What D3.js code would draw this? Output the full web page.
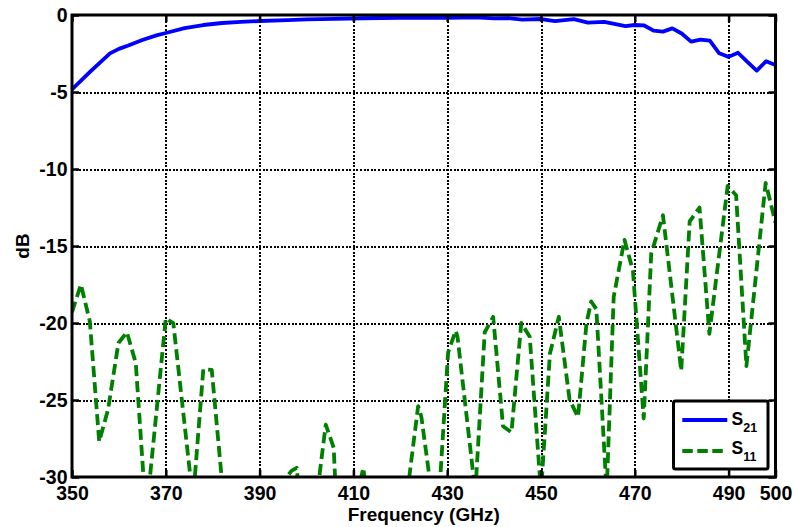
<!DOCTYPE html>
<html>
<head>
<meta charset="utf-8">
<script src="https://cdn.jsdelivr.net/npm/d3@7"></script>
<style>
  body { margin: 0; background: #fff; }
  text { font-family: "Liberation Sans", Arial, Helvetica, sans-serif; font-weight: bold; }
</style>
</head>
<body>
<svg id="chart" width="793" height="527"></svg>
<script>
// Transmission S21 (dB) versus frequency (GHz)
const s21Freq = [350, 354, 358.1, 360, 362, 365, 368, 370, 374, 378, 382, 386, 390, 396, 400, 406, 412, 420, 430, 436,
                 440, 443, 446, 450, 453, 457, 460, 463.5, 468, 470, 472, 474, 476, 478, 480, 482, 484, 486, 488, 490,
                 492, 494, 496, 498, 500];
const s21Db   = [-4.83, -3.65, -2.49, -2.2, -1.98, -1.62, -1.32, -1.17, -0.85, -0.65, -0.52, -0.45, -0.39, -0.33, -0.29, -0.25, -0.21, -0.18, -0.18, -0.15,
                 -0.22, -0.2, -0.3, -0.26, -0.4, -0.27, -0.5, -0.45, -0.72, -0.65, -0.68, -1.02, -1.08, -0.87, -1.2, -1.73, -1.6, -1.67, -2.49, -2.72,
                 -2.45, -3.05, -3.61, -3.0, -3.25];

// Reflection S11 (dB) versus frequency (GHz); values under -30 dB fall outside the axes
const s11Freq = [350, 351.9, 353.8, 355.8, 357.7, 359.9, 361.7, 363.6, 365.8, 370, 371.6, 375.8, 378, 379.8, 382.5, 386, 390,
                 395.3, 396.8, 397.9, 398.6, 400, 401.5, 404.1, 405.8, 407, 411, 412.1, 413, 418, 421.5, 423.8, 424.5, 426.3, 427.5,
                 430.2, 431.8, 432.2, 436, 438, 439.8, 441.9, 443.7, 445.5, 445.8, 447.6, 450, 451.9, 453.8, 456.1, 457.9,
                 459.7, 460.7, 461.8, 464, 465.5, 467.8, 469.6, 471.9, 473.5, 476, 479.9, 481.7, 483.8, 485.9, 489.8, 491.6,
                 493.8, 497.9, 500];
const s11Db   = [-19.3, -17.5, -19.9, -27.7, -25.6, -21.3, -20.6, -22.6, -32.5, -19.7, -20.0, -31.5, -23.0, -23.05, -32, -38, -40,
                 -30.2, -29.6, -29.4, -31.5, -36, -33, -26.6, -28.1, -36, -31, -29.4, -31.5, -38, -31, -25.4, -26.1, -30.2, -35,
                 -21.9, -20.5, -20.9, -31, -20.6, -19.6, -26.7, -27.1, -21.0, -20.0, -20.9, -31, -22.0, -19.6, -25.0, -26.1,
                 -20.0, -18.6, -19.1, -31, -18.3, -14.6, -16.6, -26.2, -15.5, -13.0, -23.1, -13.4, -12.5, -20.7, -11.1, -11.7,
                 -22.8, -10.9, -13.5];

const xTicks = [350, 370, 390, 410, 430, 450, 470, 490, 500];
const yTicks = [-30, -25, -20, -15, -10, -5, 0];
const legendNames = ["21", "11"];
const xTitle = "Frequency (GHz)";
const yTitle = "dB";

const plotLeft = 72, plotRight = 775.5, plotTop = 15, plotBottom = 477;
const svg = d3.select("#chart");

const x = d3.scaleLinear().domain([350, 500]).range([plotLeft, plotRight]);
const y = d3.scaleLinear().domain([-30, 0]).range([plotBottom, plotTop]);

// dotted grid
const gridStyle = g => {
  g.select(".domain").remove();
  g.selectAll("line").attr("stroke", "#000").attr("stroke-width", 2)
    .attr("stroke-dasharray", "2,1.6").attr("shape-rendering", "crispEdges");
};
svg.append("g")
  .attr("transform", `translate(0,${plotBottom})`)
  .call(d3.axisBottom(x).tickValues(xTicks.filter(v => v > 350 && v < 500)).tickSize(-(plotBottom - plotTop)).tickFormat(""))
  .call(gridStyle);
svg.append("g")
  .attr("transform", `translate(${plotLeft},0)`)
  .call(d3.axisLeft(y).tickValues(yTicks.filter(v => v > -30 && v < 0)).tickSize(-(plotRight - plotLeft)).tickFormat(""))
  .call(gridStyle);

// clip curves to the plot box
svg.append("defs").append("clipPath").attr("id", "plotClip")
  .append("rect").attr("x", plotLeft).attr("y", plotTop).attr("width", plotRight - plotLeft).attr("height", plotBottom - plotTop);

const line = d3.line().x(d => x(d[0])).y(d => y(d[1]));
const curves = svg.append("g").attr("clip-path", "url(#plotClip)");

curves.append("path")
  .datum(d3.zip(s11Freq, s11Db))
  .attr("d", line)
  .attr("fill", "none")
  .attr("stroke", "#008000")
  .attr("stroke-width", 3.8)
  .attr("stroke-dasharray", "11,5")
  .attr("stroke-linejoin", "round");

curves.append("path")
  .datum(d3.zip(s21Freq, s21Db))
  .attr("d", line)
  .attr("fill", "none")
  .attr("stroke", "#0000ff")
  .attr("stroke-width", 3.8)
  .attr("stroke-linejoin", "round");

// axes with inward ticks on all four sides
const fmt = d => String(d);
const axisStyle = g => {
  g.select(".domain").remove();
  g.selectAll(".tick line").attr("stroke", "#000").attr("stroke-width", 2.5);
  g.selectAll("text").attr("fill", "#000").style("font-size", "19.5px");
};
svg.append("g")
  .attr("transform", `translate(0,${plotBottom})`)
  .call(d3.axisBottom(x).tickValues(xTicks).tickSizeInner(-7).tickSizeOuter(0).tickPadding(9.5).tickFormat(fmt))
  .call(axisStyle);
svg.append("g")
  .attr("transform", `translate(0,${plotTop})`)
  .call(d3.axisTop(x).tickValues(xTicks).tickSizeInner(-7).tickSizeOuter(0).tickFormat(""))
  .call(axisStyle);
svg.append("g")
  .attr("transform", `translate(${plotLeft},0)`)
  .call(d3.axisLeft(y).tickValues(yTicks).tickSizeInner(-7).tickSizeOuter(0).tickPadding(4.5).tickFormat(fmt))
  .call(axisStyle);
svg.append("g")
  .attr("transform", `translate(${plotRight},0)`)
  .call(d3.axisRight(y).tickValues(yTicks).tickSizeInner(-7).tickSizeOuter(0).tickFormat(""))
  .call(axisStyle);

// plot frame
svg.append("rect")
  .attr("x", plotLeft).attr("y", plotTop).attr("width", plotRight - plotLeft).attr("height", plotBottom - plotTop)
  .attr("fill", "none").attr("stroke", "#000").attr("stroke-width", 3);

// axis titles
svg.append("text")
  .attr("x", (plotLeft + plotRight) / 2).attr("y", 521)
  .attr("text-anchor", "middle").style("font-size", "19px")
  .text(xTitle);
svg.append("text")
  .attr("transform", `translate(29,${(plotTop + plotBottom) / 2}) rotate(-90)`)
  .attr("text-anchor", "middle").style("font-size", "19px")
  .text(yTitle);

// legend
const legend = svg.append("g");
legend.append("rect")
  .attr("x", 673.5).attr("y", 401).attr("width", 94.5).attr("height", 68).attr("rx", 2)
  .attr("fill", "#fff").attr("stroke", "#000").attr("stroke-width", 3);
const legendItems = [
  { sub: legendNames[0], color: "#0000ff", dash: null, yLine: 420, yText: 425 },
  { sub: legendNames[1], color: "#008000", dash: "10.5,4.5", yLine: 451, yText: 454 }
];
legendItems.forEach(it => {
  legend.append("line")
    .attr("x1", 682.3).attr("x2", 727.3).attr("y1", it.yLine).attr("y2", it.yLine)
    .attr("stroke", it.color).attr("stroke-width", 3.8)
    .attr("stroke-dasharray", it.dash);
  const t = legend.append("text").attr("x", 731.5).attr("y", it.yText).style("font-size", "17.5px");
  t.append("tspan").text("S");
  t.append("tspan").attr("dy", 6.5).style("font-size", "12.5px").text(it.sub);
});
</script>
</body>
</html>
